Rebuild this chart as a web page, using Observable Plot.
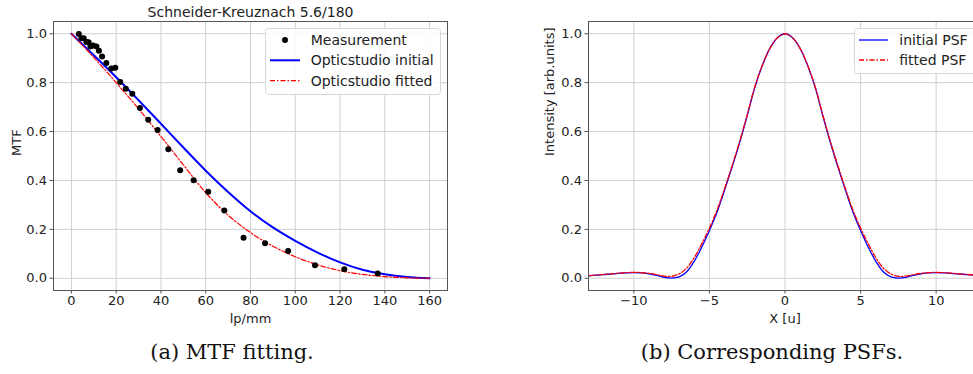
<!DOCTYPE html>
<html><head><meta charset="utf-8">
<script src="https://cdn.jsdelivr.net/npm/d3@7"></script>
<script src="https://cdn.jsdelivr.net/npm/@observablehq/plot@0.6"></script>
<style>
html,body{margin:0;padding:0;background:#fff;overflow:hidden;width:973px;height:374px;}
#wrap{position:relative;width:973px;height:374px;overflow:hidden;background:#fff;}
.pl{position:absolute;top:0;}
.leg{position:absolute;overflow:visible;}
.caption{position:absolute;font-family:"DejaVu Serif";font-size:21px;color:#111;transform:translate(-50%,-50%);white-space:nowrap;}
</style></head>
<body>
<div id="wrap">
  <div id="left" class="pl" style="left:0;width:460px;"></div>
  <div id="right" class="pl" style="left:500px;width:500px;"></div>
  <svg class="leg" style="left:265px;top:28px;" width="177" height="68">
    <rect x="0.5" y="0.5" width="175" height="66" rx="3" fill="rgba(255,255,255,0.85)" stroke="#d8d8d8"/>
    <circle cx="20" cy="12" r="3" fill="#000"/>
    <line x1="5" x2="35" y1="32.3" y2="32.3" stroke="#0000ff" stroke-width="2"/>
    <line x1="5" x2="35" y1="52.7" y2="52.7" stroke="#ff0000" stroke-width="1.2" stroke-dasharray="5,2,1.5,2"/>
    <g font-family="DejaVu Sans" font-size="14" fill="#222" dominant-baseline="central">
      <text x="45.7" y="12">Measurement</text>
      <text x="45.7" y="32.3">Opticstudio initial</text>
      <text x="45.7" y="52.7">Opticstudio fitted</text>
    </g>
  </svg>
  <svg class="leg" style="left:854px;top:28px;" width="130" height="47">
    <rect x="0.5" y="0.5" width="140" height="45" rx="3" fill="rgba(255,255,255,0.85)" stroke="#d8d8d8"/>
    <line x1="5" x2="34" y1="12" y2="12" stroke="#0000ff" stroke-width="1.3"/>
    <line x1="5" x2="34" y1="32" y2="32" stroke="#ff0000" stroke-width="1.3" stroke-dasharray="5,2,1.5,2"/>
    <g font-family="DejaVu Sans" font-size="14" fill="#222" dominant-baseline="central">
      <text x="45.3" y="12">initial PSF</text>
      <text x="45.3" y="32">fitted PSF</text>
    </g>
  </svg>
  <div class="caption" style="left:232px;top:352px;">(a) MTF fitting.</div>
  <div class="caption" style="left:772px;top:352px;">(b) Corresponding PSFs.</div>
</div>
<script>
// ---- MTF data (left panel) ----
const measFreq = [3.3,4.5,5.5,6.7,7.7,8.5,9.7,11.2,12.3,13.7,15.6,17.8,19.6,21.8,24.3,27.2,30.6,34.3,38.5,43.3,48.6,54.6,61.1,68.3,76.9,86.5,96.8,108.8,121.9,136.8];
const measMTF  = [0.999,0.982,0.982,0.966,0.965,0.948,0.952,0.948,0.930,0.907,0.880,0.858,0.861,0.803,0.775,0.755,0.696,0.648,0.606,0.528,0.442,0.401,0.354,0.277,0.166,0.143,0.112,0.053,0.037,0.020];
const curveFreq   = [0,10,20,30,40,50,60,70,80,90,100,110,120,130,140,150,160];
const mtfInitial  = [1.0,0.912,0.822,0.728,0.632,0.535,0.440,0.353,0.274,0.208,0.153,0.105,0.065,0.035,0.016,0.005,0.0];
const mtfFitted   = [1.0,0.903,0.800,0.693,0.580,0.464,0.350,0.258,0.187,0.131,0.088,0.055,0.031,0.016,0.007,0.002,0.0];
const mtfTicksX = [0,20,40,60,80,100,120,140,160];
const yTicks = [0,0.2,0.4,0.6,0.8,1.0];
const mtfTitle = "Schneider-Kreuznach 5.6/180";

// ---- PSF data (right panel) ----
const psfX = [-13,-12.5,-12,-11.5,-11,-10.5,-10,-9.5,-9,-8.5,-8,-7.5,-7,-6.5,-6,-5.5,-5,-4.5,-4,-3.5,-3,-2.5,-2,-1.5,-1,-0.5,0,0.5,1,1.5,2,2.5,3,3.5,4,4.5,5,5.5,6,6.5,7,7.5,8,8.5,9,9.5,10,10.5,11,11.5,12,12.5,13];
const psfInitial = [0.010,0.013,0.015,0.018,0.020,0.022,0.023,0.022,0.018,0.012,0.004,0.001,0.006,0.027,0.070,0.128,0.195,0.270,0.360,0.455,0.555,0.665,0.780,0.870,0.940,0.984,1.0,0.984,0.940,0.870,0.780,0.665,0.555,0.455,0.360,0.270,0.195,0.128,0.070,0.027,0.006,0.001,0.004,0.012,0.018,0.022,0.023,0.022,0.020,0.018,0.015,0.013,0.010];
const psfFitted  = [0.011,0.013,0.016,0.018,0.021,0.023,0.024,0.023,0.020,0.015,0.009,0.008,0.018,0.042,0.085,0.142,0.205,0.278,0.366,0.460,0.560,0.668,0.782,0.871,0.940,0.984,1.0,0.984,0.940,0.871,0.782,0.668,0.560,0.460,0.366,0.278,0.205,0.142,0.085,0.042,0.018,0.008,0.009,0.015,0.020,0.023,0.024,0.023,0.021,0.018,0.016,0.013,0.011];
const psfTicksX = [-10,-5,0,5,10];

const meas = measFreq.map((f,i)=>({f, mtf: measMTF[i]}));
const mtfCurve = curveFreq.map((f,i)=>({f, initial: mtfInitial[i], fitted: mtfFitted[i]}));
const psf = psfX.map((x,i)=>({x, initial: psfInitial[i], fitted: psfFitted[i]}));

const fmtY = d => d.toFixed(1);
const fmtX = d => d < 0 ? "\u2212" + (-d) : String(d);
const style = {fontFamily: "DejaVu Sans", fontSize: "13px", color: "#222", background: "transparent", overflow: "visible"};
const gridStyle = {stroke: "#d0d0d0", strokeOpacity: 1, strokeWidth: 1};

const left = Plot.plot({
  width: 460, height: 330,
  marginLeft: 53, marginRight: 13, marginTop: 21, marginBottom: 40,
  style,
  x: {domain: [-8, 168]},
  y: {domain: [-0.05, 1.05]},
  marks: [
    Plot.gridX(mtfTicksX, gridStyle),
    Plot.gridY(yTicks, gridStyle),
    Plot.line(mtfCurve, {x: "f", y: "initial", stroke: "#0000ff", strokeWidth: 2, curve: "catmull-rom"}),
    Plot.line(mtfCurve, {x: "f", y: "fitted", stroke: "#ff0000", strokeWidth: 1.2, strokeDasharray: "5,2,1.5,2", curve: "catmull-rom"}),
    Plot.dot(meas, {x: "f", y: "mtf", r: 3, fill: "#000", stroke: "none"}),
    Plot.frame({stroke: "#555"}),
    Plot.axisX(mtfTicksX, {tickSize: 3.5, tickPadding: 2, tickFormat: fmtX, label: null, stroke: "#555"}),
    Plot.axisY(yTicks, {tickSize: 3.5, tickPadding: 3, tickFormat: fmtY, label: null, stroke: "#555"}),
    Plot.text([mtfTitle], {text: d => d, frameAnchor: "top", lineAnchor: "middle", dy: -9, fontSize: 14, fill: "#222"}),
    Plot.text(["lp/mm"], {text: d => d, frameAnchor: "bottom", lineAnchor: "middle", dy: 28, fill: "#222"}),
    Plot.text(["MTF"], {text: d => d, frameAnchor: "left", lineAnchor: "middle", dx: -37, rotate: -90, fill: "#222"})
  ]
});
document.getElementById("left").appendChild(left);

const right = Plot.plot({
  width: 500, height: 330,
  marginLeft: 88, marginRight: 19, marginTop: 21, marginBottom: 40,
  style,
  x: {domain: [-13, 13]},
  y: {domain: [-0.05, 1.05]},
  marks: [
    Plot.gridX(psfTicksX, gridStyle),
    Plot.gridY(yTicks, gridStyle),
    Plot.line(psf, {x: "x", y: "initial", stroke: "#0000ff", strokeWidth: 1.3, curve: "catmull-rom", clip: true}),
    Plot.line(psf, {x: "x", y: "fitted", stroke: "#ff0000", strokeWidth: 1.3, strokeDasharray: "5,2,1.5,2", curve: "catmull-rom", clip: true}),
    Plot.frame({stroke: "#555"}),
    Plot.axisX(psfTicksX, {tickSize: 3.5, tickPadding: 2, tickFormat: fmtX, label: null, stroke: "#555"}),
    Plot.axisY(yTicks, {tickSize: 3.5, tickPadding: 3, tickFormat: fmtY, label: null, stroke: "#555"}),
    Plot.text(["X [u]"], {text: d => d, frameAnchor: "bottom", lineAnchor: "middle", dy: 28, fill: "#222"}),
    Plot.text(["Intensity [arb.units]"], {text: d => d, frameAnchor: "left", lineAnchor: "middle", dx: -39, rotate: -90, fill: "#222"})
  ]
});
document.getElementById("right").appendChild(right);
</script>
</body></html>
